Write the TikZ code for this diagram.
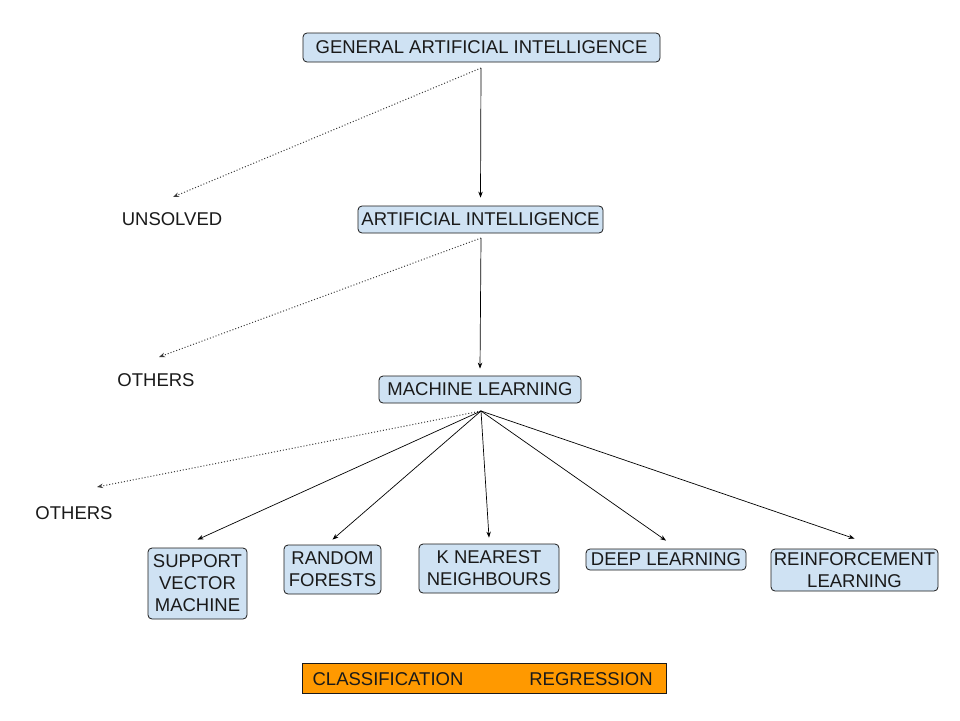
\documentclass[tikz,border=0pt]{standalone}
\usepackage{fontspec}
\setmainfont{Liberation Sans}
\usetikzlibrary{arrows.meta,shapes.misc}
\definecolor{boxblue}{HTML}{CFE2F3}
\definecolor{barorange}{HTML}{FF9900}
\definecolor{inkgray}{HTML}{1A1A1A}
\tikzset{
  bluebox/.style={draw=inkgray, fill=boxblue, rounded corners=4pt, line width=0.8pt,
    align=center, inner sep=1pt, text=inkgray},
  plainlabel/.style={inner sep=0pt, text=inkgray},
  solidlink/.style={line width=0.7pt, -{Stealth[length=6pt,width=4.5pt]}},
  dottedlink/.style={line width=1pt, dash pattern=on 1pt off 2pt, -{Stealth[length=6pt,width=4.5pt]}},
}

\begin{document}
\begin{tikzpicture}[x=1pt, y=-1pt, font=\fontsize{18.5}{22}\selectfont]
			%%%%% START %%%%%
			\useasboundingbox[fill=white] (0, 0) rectangle (960, 720);
			
			\node[bluebox, minimum width=357pt, minimum height=29pt] (gai) at (481.5, 47.5) {GENERAL ARTIFICIAL INTELLIGENCE};
			\node[bluebox, minimum width=245pt, minimum height=27pt] (ai) at (480.5, 219.5) {ARTIFICIAL INTELLIGENCE};
			\node[bluebox, minimum width=202pt, minimum height=27pt] (ml) at (480, 389.5) {MACHINE LEARNING};
			
			\node[plainlabel] (unsolved) at (172, 219) {UNSOLVED};
			\node[plainlabel] (others1) at (156, 380) {OTHERS};
			\node[plainlabel] (others2) at (74, 513) {OTHERS};
			
			\node[bluebox, minimum width=99pt, minimum height=71pt] (svm) at (197.5, 583.5) {SUPPORT\\VECTOR\\MACHINE};
			\node[bluebox, minimum width=97pt, minimum height=49pt] (rf) at (332.5, 569.5) {RANDOM\\FORESTS};
			\node[bluebox, minimum width=140pt, minimum height=49pt] (knn) at (489, 568.5) {K NEAREST\\NEIGHBOURS};
			\node[bluebox, minimum width=160pt, minimum height=21pt] (dl) at (666, 559.5) {DEEP LEARNING};
			\node[bluebox, minimum width=167pt, minimum height=42pt] (rl) at (854.5, 570) {REINFORCEMENT\\LEARNING};
			
			\node[draw=inkgray, fill=barorange, line width=0.8pt, chamfered rectangle, chamfered rectangle corners=north east,
			  chamfered rectangle xsep=3pt, chamfered rectangle ysep=3pt, inner sep=0pt,
			  minimum width=364pt, minimum height=30pt] (bar) at (484, 678) {};
			\node[plainlabel] (cls) at (388, 679) {CLASSIFICATION};
			\node[plainlabel] (reg) at (591, 679) {REGRESSION};
			
			% start and end points of the links
			\coordinate (gai-out) at (481, 68);
			\coordinate (ai-out) at (481, 238);
			\coordinate (ml-out) at (481, 411);
			\coordinate (unsolved-tip) at (173, 197);
			\coordinate (others1-tip) at (159, 357);
			\coordinate (others2-tip) at (97, 487);
			
			\draw[solidlink] (gai-out) -- ([yshift=8pt]ai.north);
			\draw[dottedlink, color=inkgray!85] (gai-out) -- (unsolved-tip);
			\draw[solidlink] (ai-out) -- ([yshift=7pt]ml.north);
			\draw[dottedlink, color=inkgray!85] (ai-out) -- (others1-tip);
			\draw[dottedlink, color=inkgray!85] (ml-out) -- (others2-tip);
			
			\draw[solidlink] (ml-out) -- ([yshift=8pt]svm.north);
			\draw[solidlink] (ml-out) -- ([yshift=5pt]rf.north);
			\draw[solidlink] (ml-out) -- ([yshift=6pt]knn.north);
			\draw[solidlink] (ml-out) -- ([yshift=8pt]dl.north);
			\draw[solidlink] (ml-out) -- ([yshift=10pt]rl.north);
			
			%%%%% END %%%%%
\end{tikzpicture}
\end{document}
